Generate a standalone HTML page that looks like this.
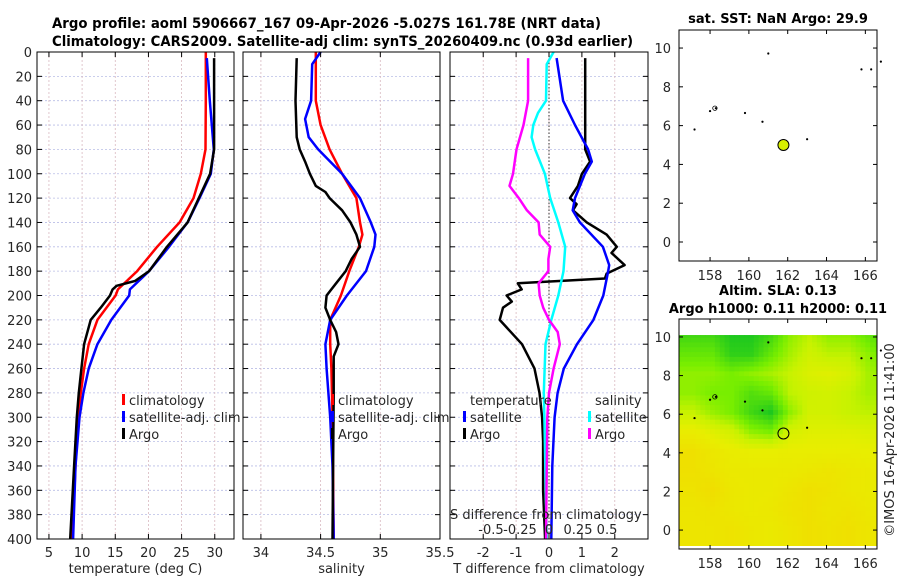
<!DOCTYPE html>
<html><head><meta charset="utf-8"><style>
html,body{margin:0;padding:0;background:#fff}
svg{display:block}
text{font-family:"DejaVu Sans","Liberation Sans",sans-serif;fill:#262626}
.b{font-weight:bold;fill:#000}
</style></head><body>
<svg id="c" width="900" height="580" viewBox="0 0 900 580" xmlns="http://www.w3.org/2000/svg">
<text class="b" x="52" y="28" font-size="14" textLength="549" lengthAdjust="spacingAndGlyphs">Argo profile: aoml 5906667_167 09-Apr-2026 -5.027S 161.78E (NRT data)</text>
<text class="b" x="52" y="46" font-size="14" textLength="581" lengthAdjust="spacingAndGlyphs">Climatology: CARS2009. Satellite-adj clim: synTS_20260409.nc (0.93d earlier)</text>
<text class="b" x="778" y="23" font-size="13" text-anchor="middle">sat. SST: NaN Argo: 29.9</text>
<text class="b" x="778" y="295" font-size="13" text-anchor="middle">Altim. SLA: 0.13</text>
<text class="b" x="778" y="313" font-size="13" text-anchor="middle">Argo h1000: 0.11 h2000: 0.11</text>
<text x="0" y="0" font-size="13" text-anchor="middle" transform="translate(894,440) rotate(-90)">©IMOS 16-Apr-2026 11:41:00</text>
</svg>
<script>
// ---------- data ----------
const depthTicks=[0,20,40,60,80,100,120,140,160,180,200,220,240,260,280,300,320,340,360,380,400];
const tempTicks=[5,10,15,20,25,30];
const salTicks=[34,34.5,35,35.5];
const salTickLabels=["34","34.5","35","35.5"];
const dTTicks=[-2,-1,0,1,2];
const dSTicks=[-0.5,-0.25,0,0.25,0.5];
const dSTickLabels=["-0.5","-0.25","0","0.25","0.5"];

const tClimDepth=[0,40,80,100,120,140,160,180,195,200,220,240,260,280,300,340,400];
const tClimVal=[28.65,28.65,28.6,27.9,26.8,24.7,21.3,18.3,15.4,15.05,12.3,11.0,10.3,9.8,9.4,9.0,8.5];
const tSatDepth=[5,40,80,100,120,140,160,180,195,200,220,240,260,280,300,340,400];
const tSatVal=[28.8,29.25,29.85,29.4,27.7,25.9,23.1,20.1,17.2,17.1,14.4,12.3,11.0,10.2,9.6,9.0,8.65];
const tArgoDepth=[5,80,100,120,140,160,180,188,192,195,200,210,220,240,260,280,300,340,400];
const tArgoVal=[29.9,29.9,29.3,27.6,25.9,22.8,20.1,18.0,15.2,14.6,14.2,12.8,11.3,10.3,9.9,9.5,9.2,8.8,8.2];

const sClimDepth=[0,40,60,80,100,120,140,150,160,180,200,220,240,260,300,400];
const sClimVal=[34.46,34.46,34.50,34.575,34.68,34.80,34.83,34.85,34.82,34.74,34.67,34.58,34.58,34.59,34.6,34.61];
const sSatDepth=[0,10,40,55,70,80,100,120,140,150,160,180,200,220,240,260,300,340,400];
const sSatVal=[34.50,34.43,34.42,34.37,34.40,34.48,34.68,34.83,34.92,34.96,34.95,34.88,34.72,34.58,34.54,34.55,34.58,34.6,34.61];
const sArgoDepth=[5,40,70,80,90,100,110,115,120,130,140,150,160,170,180,190,200,210,220,230,240,250,280,400];
const sArgoVal=[34.30,34.29,34.30,34.325,34.37,34.41,34.46,34.54,34.575,34.68,34.75,34.80,34.83,34.76,34.71,34.63,34.55,34.54,34.58,34.63,34.65,34.61,34.61,34.60];

const dTSatDepth=[5,40,60,80,90,100,120,130,140,160,175,180,200,220,240,260,280,300,340,400];
const dTSatVal=[0.23,0.43,0.79,1.19,1.3,1.09,0.79,0.72,0.94,1.64,1.83,1.8,1.65,1.35,0.85,0.45,0.26,0.17,0.1,0.07];
const dTArgoDepth=[5,80,90,100,110,120,125,130,140,150,160,165,175,182,186,190,195,200,205,210,220,240,260,280,300,320,360,400];
const dTArgoVal=[1.1,1.1,1.25,1.0,0.88,0.64,0.84,0.73,1.15,1.75,2.06,1.9,2.3,1.75,1.7,-0.95,-0.83,-1.29,-1.13,-1.4,-1.5,-0.82,-0.44,-0.29,-0.21,-0.18,-0.18,-0.12];
const dSSatDepth=[0,10,40,50,60,70,80,100,120,140,160,180,200,220,240,280,300,400];
const dSSatVal=[0.04,-0.02,-0.026,-0.095,-0.135,-0.15,-0.12,-0.035,0.01,0.08,0.14,0.125,0.08,0.02,-0.03,-0.045,-0.04,-0.02];
const dSArgoDepth=[5,40,60,80,100,110,120,130,140,150,160,170,180,190,200,210,220,230,240,260,280,300,400];
const dSArgoVal=[-0.18,-0.18,-0.22,-0.28,-0.31,-0.34,-0.26,-0.19,-0.09,-0.08,0.01,-0.005,-0.005,-0.09,-0.08,-0.05,0.0,0.075,0.093,0.04,0.0,-0.015,-0.026];

const lonTicks=[158,160,162,164,166];
const latTicks=[0,2,4,6,8,10];
const islandLon=[157.2,158.0,158.3,159.8,160.7,161.0,163.0,165.8,166.3,166.8];
const islandLat=[5.8,6.75,6.9,6.65,6.2,9.72,5.3,8.9,8.9,9.3];
const argoLon=161.78, argoLat=5.0;
// SLA colour index grid: rows lat 10..0, cols lon 157..167
const slaRow10=[0.3,0.3,0.2,0.2,0.3,0.5,0.6,0.5,0.5,0.4,0.3];
const slaRow9=[0.4,0.4,0.25,0.25,0.4,0.55,0.65,0.6,0.6,0.5,0.4];
const slaRow8=[0.5,0.5,0.45,0.5,0.55,0.62,0.7,0.72,0.68,0.55,0.5];
const slaRow7=[0.5,0.45,0.45,0.35,0.4,0.6,0.65,0.66,0.62,0.55,0.55];
const slaRow6=[0.62,0.52,0.45,0.3,0.2,0.5,0.66,0.66,0.62,0.6,0.6];
const slaRow5=[0.78,0.72,0.66,0.5,0.45,0.68,0.72,0.72,0.72,0.7,0.7];
const slaRow4=[0.88,0.82,0.78,0.76,0.76,0.77,0.77,0.77,0.77,0.76,0.72];
const slaRow3=[0.88,0.84,0.8,0.8,0.8,0.8,0.82,0.84,0.82,0.8,0.76];
const slaRow2=[0.86,0.9,0.82,0.8,0.8,0.84,0.88,0.86,0.82,0.8,0.78];
const slaRow1=[0.84,0.86,0.82,0.8,0.82,0.86,0.88,0.84,0.86,0.82,0.78];
const slaRow0=[0.84,0.84,0.86,0.82,0.8,0.84,0.88,0.86,0.88,0.84,0.8];
const slaGrid=[slaRow10,slaRow9,slaRow8,slaRow7,slaRow6,slaRow5,slaRow4,slaRow3,slaRow2,slaRow1,slaRow0];

// ---------- helpers ----------
const svg=document.getElementById('c');
const NS='http://www.w3.org/2000/svg';
function mk(tag,attrs,parent){const e=document.createElementNS(NS,tag);for(const k in attrs)e.setAttribute(k,attrs[k]);(parent||svg).appendChild(e);return e;}
const PT=52,PB=539;
const yD=d=>PT+(d/400)*(PB-PT);
function lin(d0,d1,r0,r1){return v=>r0+(v-d0)/(d1-d0)*(r1-r0);}

function panel(name,x0,x1,xTicks,sx){
  const g=mk('g',{});
  
  
  depthTicks.forEach(d=>{mk('line',{x1:x0,x2:x1,y1:yD(d),y2:yD(d),stroke:'#b9bde6','stroke-width':0.8,'stroke-dasharray':'2,2'},g);});
  xTicks.forEach(v=>{const x=sx(v);mk('line',{x1:x,x2:x,y1:PT,y2:PB,stroke:'#d9b9c0','stroke-width':0.8,'stroke-dasharray':'2,2'},g);});
  return g;
}
function frame(g,x0,x1,xTicks,xLabels,sx,title,showY){
  mk('rect',{x:x0,y:PT,width:x1-x0,height:PB-PT,fill:'none',stroke:'#000','stroke-width':1},g);
  depthTicks.forEach(d=>{
    mk('line',{x1:x0,x2:x0+5,y1:yD(d),y2:yD(d),stroke:'#000'},g);
    mk('line',{x1:x1-5,x2:x1,y1:yD(d),y2:yD(d),stroke:'#000'},g);
    if(showY){const t=mk('text',{x:x0-5,y:yD(d)+5,'font-size':13,'text-anchor':'end'},g);t.textContent=d;}
  });
  xTicks.forEach((v,i)=>{const x=sx(v);
    mk('line',{x1:x,x2:x,y1:PB-5,y2:PB,stroke:'#000'},g);
    mk('line',{x1:x,x2:x,y1:PT,y2:PT+5,stroke:'#000'},g);
    const t=mk('text',{x:x,y:557,'font-size':13,'text-anchor':'middle'},g);t.textContent=xLabels[i];
    
    
  });
  const tt=mk('text',{x:(x0+x1)/2,y:573,'font-size':13,'text-anchor':'middle'},g);tt.textContent=title;
  
  
}
function series(g,name,depths,vals,sx,color){
  const pts=depths.map((d,i)=>sx(vals[i]).toFixed(1)+','+yD(d).toFixed(1)).join(' ');
  const p=mk('polyline',{points:pts,fill:'none',stroke:color,'stroke-width':2.5,'stroke-linejoin':'round'},g);
  
  
}
function legend(g,x,y,color,label){
  mk('rect',{x:x,y:y-11,width:3,height:11,fill:color},g);
  const t=mk('text',{x:x+7,y:y,'font-size':13},g);t.textContent=label;
  
  
}

// panel 1 temperature
const sxT=lin(3.2,32.9,37,234);
const g1=panel('temperature-panel',37,234,tempTicks,sxT);
series(g1,'temp-climatology-line',tClimDepth,tClimVal,sxT,'#ff0000');
series(g1,'temp-satellite-line',tSatDepth,tSatVal,sxT,'#0000ff');
series(g1,'temp-argo-line',tArgoDepth,tArgoVal,sxT,'#000000');
frame(g1,37,234,tempTicks,tempTicks.map(String),sxT,'temperature (deg C)',true);
legend(g1,122,405,'#ff0000','climatology');legend(g1,122,422,'#0000ff','satellite-adj. clim');legend(g1,122,439,'#000','Argo');

// panel 2 salinity
const sxS=lin(33.85,35.5,243,440);
const g2=panel('salinity-panel',243,440,salTicks,sxS);
series(g2,'sal-climatology-line',sClimDepth,sClimVal,sxS,'#ff0000');
series(g2,'sal-satellite-line',sSatDepth,sSatVal,sxS,'#0000ff');
series(g2,'sal-argo-line',sArgoDepth,sArgoVal,sxS,'#000000');
frame(g2,243,440,salTicks,salTickLabels,sxS,'salinity',false);
legend(g2,331,405,'#ff0000','climatology');legend(g2,331,422,'#0000ff','satellite-adj. clim');legend(g2,331,439,'#000','Argo');

// panel 3 differences
const sxdT=lin(-3.01,3.01,450,648);
const sxdS=lin(-0.853,0.853,450,648);
const g3=panel('difference-panel',450,648,dTTicks,sxdT);
mk('line',{x1:sxdT(0),x2:sxdT(0),y1:PT,y2:PB,stroke:'#333','stroke-width':1,'stroke-dasharray':'1.5,2'},g3);
series(g3,'dT-argo-line',dTArgoDepth,dTArgoVal,sxdT,'#000000');
series(g3,'dT-satellite-line',dTSatDepth,dTSatVal,sxdT,'#0000ff');
series(g3,'dS-satellite-line',dSSatDepth,dSSatVal,sxdS,'#00ffff');
series(g3,'dS-argo-line',dSArgoDepth,dSArgoVal,sxdS,'#ff00ff');
frame(g3,450,648,dTTicks,dTTicks.map(String),sxdT,'T difference from climatology',false);
{const t=mk('text',{x:470,y:405,'font-size':13},g3);t.textContent='temperature';}
{const t=mk('text',{x:595,y:405,'font-size':13},g3);t.textContent='salinity';}
legend(g3,463,422,'#0000ff','satellite');legend(g3,463,439,'#000','Argo');
legend(g3,588,422,'#00ffff','satellite');legend(g3,588,439,'#ff00ff','Argo');
{const t=mk('text',{x:450,y:519,'font-size':13},g3);t.textContent='S difference from climatology';}
dSTicks.forEach((v,i)=>{const t=mk('text',{x:sxdS(v),y:534,'font-size':13,'text-anchor':'middle'},g3);t.textContent=dSTickLabels[i];
  
  });

// ---------- maps ----------
const mx=lin(156.4,166.6,679,877);
function mapAxes(name,top,bot,heat){
  const my=lin(10.93,-0.98,top,bot);
  const g=mk('g',{});
  
  
  if(heat){
    const cp=mk('clipPath',{id:'mclip'},g);mk('rect',{x:679,y:top,width:198,height:bot-top},cp);
    const hg=mk('g',{'clip-path':'url(#mclip)'},g);
    const col=v=>{const stops=[[0.2,[30,200,30]],[0.45,[120,238,0]],[0.62,[200,242,0]],[0.76,[232,238,0]],[0.9,[240,222,0]]];
      if(v<=stops[0][0])return stops[0][1];
      for(let i=1;i<stops.length;i++){if(v<=stops[i][0]){const a=stops[i-1],b=stops[i],f=(v-a[0])/(b[0]-a[0]);return a[1].map((c,k)=>Math.round(c+(b[1][k]-c)*f));}}
      return stops[stops.length-1][1];};
    const step=0.25;
    for(let la=-1;la<10.1;la+=step){for(let lo=156.25;lo<167;lo+=step){
      const ri=Math.min(Math.max((10-la),0),10), ci=Math.min(Math.max(lo-157,0),10);
      const r0=Math.floor(ri),c0=Math.floor(ci),r1=Math.min(r0+1,10),c1=Math.min(c0+1,10),fr=ri-r0,fc=ci-c0;
      const v=(slaGrid[r0][c0]*(1-fc)+slaGrid[r0][c1]*fc)*(1-fr)+(slaGrid[r1][c0]*(1-fc)+slaGrid[r1][c1]*fc)*fr;
      const c=col(v);const yTop=Math.min(la+step,10.1);
      mk('rect',{x:mx(lo).toFixed(2),y:my(yTop).toFixed(2),width:(mx(lo+step)-mx(lo)+0.6).toFixed(2),height:(my(la)-my(yTop)+0.6).toFixed(2),fill:'rgb('+c.join(',')+')'},hg);
    }}
    mk('rect',{x:679,y:bot-3,width:198,height:3,fill:'#fff'},g);
  }
  islandLon.forEach((lo,i)=>{const d=mk('circle',{cx:mx(lo),cy:my(islandLat[i]),r:1.1,fill:'#000'},g);
    
    });
  mk('circle',{cx:mx(158.25),cy:my(6.9),r:2.2,fill:'none',stroke:'#000','stroke-width':0.8},g);
  const a=mk('circle',{cx:mx(argoLon),cy:my(argoLat),r:5.5,fill:heat?'none':'#d8f000',stroke:'#000','stroke-width':1},g);
  
  
  mk('rect',{x:679,y:top,width:198,height:bot-top,fill:'none',stroke:'#000','stroke-width':1},g);
  lonTicks.forEach(v=>{const x=mx(v);mk('line',{x1:x,x2:x,y1:bot-4,y2:bot,stroke:'#000'},g);mk('line',{x1:x,x2:x,y1:top,y2:top+4,stroke:'#000'},g);
    const t=mk('text',{x:x,y:bot+19,'font-size':13,'text-anchor':'middle'},g);t.textContent=v;
    
    });
  latTicks.forEach(v=>{const y=my(v);mk('line',{x1:679,x2:683,y1:y,y2:y,stroke:'#000'},g);mk('line',{x1:873,x2:877,y1:y,y2:y,stroke:'#000'},g);
    const t=mk('text',{x:671,y:y+5,'font-size':13,'text-anchor':'end'},g);t.textContent=v;
    
    });
}
mapAxes('sst-map',30,261,false);
mapAxes('sla-map',319,549,true);
</script>
</body></html>
